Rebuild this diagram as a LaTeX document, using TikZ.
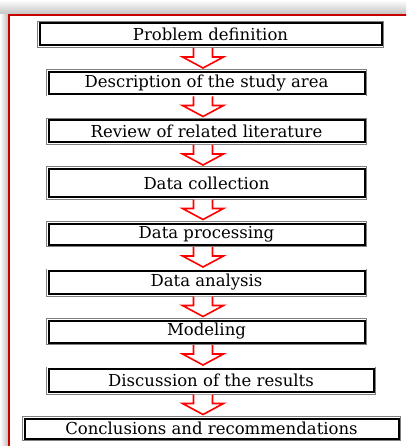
\documentclass[tikz,border=0pt]{standalone}
\usepackage{fontspec}
\setmainfont{DejaVu Serif}
\usetikzlibrary{positioning,calc}
\definecolor{framered}{rgb}{0.78,0.00,0.00}
\definecolor{boxgray}{rgb}{0.50,0.50,0.50}

\begin{document}
\begin{tikzpicture}[x=1pt,y=1pt,
  stepbox/.style={rectangle,fill=white,draw=black,line width=2pt,
    preaction={draw=boxgray,line width=5pt},
    preaction={draw=white,line width=3.5pt},
    outer sep=2.5pt,inner sep=0pt,minimum width=316pt,minimum height=22pt,
    font=\fontsize{16.5}{19}\selectfont},
  blockarrow/.style={draw=red,fill=white,line width=1.6pt,line join=miter}]
\useasboundingbox (0,0) rectangle (406,-446);
\clip (0,0) rectangle (406,-446);
\shade[top color=white,bottom color=black!25] (0,0) rectangle (406,-15);
\shade[left color=white,right color=black!25] (0,-15) rectangle (8,-446);
\draw[framered,line width=2pt] (8.5,-15.5) rectangle (430,-470);

\node[stepbox,minimum width=342pt] (def) at (210.5,-34.5) {Problem definition};
\node[stepbox,below=21.5pt of def,xshift=-4pt] (area) {Description of the study area};
\node[stepbox,below=21.5pt of area] (lit) {Review of related literature};
\node[stepbox,below=21.5pt of lit,minimum height=28pt] (coll) {Data collection};
\node[stepbox,below=21.5pt of coll,minimum height=21pt] (proc) {Data processing};
\node[stepbox,below=21.5pt of proc,minimum height=23pt] (anal) {Data analysis};
\node[stepbox,below=21.5pt of anal] (model) {Modeling};
\node[stepbox,below=21.5pt of model,xshift=4.5pt,minimum width=325pt,minimum height=23pt] (disc) {Discussion of the results};
\node[stepbox,below=21.5pt of disc,xshift=0.5pt,minimum width=374pt,minimum height=20pt] (concl) {Conclusions and recommendations};

\coordinate (axis) at (203,0);
\foreach \a/\b in {def/area,area/lit,lit/coll,coll/proc,proc/anal,anal/model,model/disc,disc/concl}
  \draw[blockarrow] ($(\a.south -| axis)+(-9.5,0)$) -- ($(\b.north -| axis)+(-9.5,12.5)$)
    -- ++(-11,0) -- ($(\b.north -| axis)+(0,1.5)$) -- ++(20.5,11) -- ++(-11,0)
    -- ($(\a.south -| axis)+(9.5,0)$);
\end{tikzpicture}
\end{document}
